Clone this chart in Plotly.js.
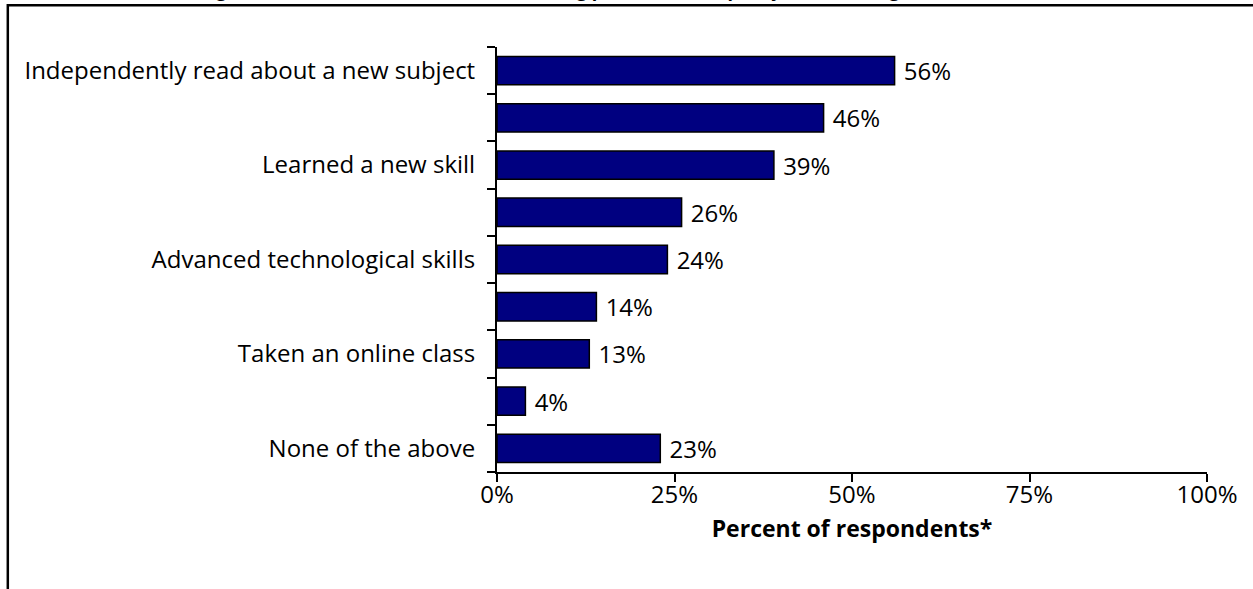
<!DOCTYPE html>
<html>
<head>
<meta charset="utf-8">
<script src="https://cdn.plot.ly/plotly-3.0.1.min.js"></script>
<style>html,body{margin:0;padding:0;background:#fff;}#chart{width:1253px;height:589px;}</style>
</head>
<body>
<div id="chart"></div>
<script>
// Data
var categories = [
  "Independently read about a new subject",
  "Item 2",
  "Learned a new skill",
  "Item 4",
  "Advanced technological skills",
  "Item 6",
  "Taken an online class",
  "Item 8",
  "None of the above"
];
var tickLabels = [
  "Independently read about a new subject",
  "",
  "Learned a new skill",
  "",
  "Advanced technological skills",
  "",
  "Taken an online class",
  "",
  "None of the above"
];
var percents = [56, 46, 39, 26, 24, 14, 13, 4, 23];
var xTickValues = [0, 25, 50, 75, 100];
var xTickLabels = ["0%", "25%", "50%", "75%", "100%"];
var chartTitle = "Figure 10: Modes of education and learning pursued in the past year \u2014 During the last 12 months";

var FONT = "'Open Sans', Lato, sans-serif";

var trace = {
  type: "bar",
  orientation: "h",
  y: categories,
  x: percents,
  width: 0.6,
  marker: {color: "#000080", line: {color: "#000000", width: 1.5}},
  texttemplate: "\u00a0%{x}%",
  textposition: "outside",
  constraintext: "none",
  cliponaxis: false,
  textfont: {family: FONT, size: 24, color: "#000000"},
  hoverinfo: "none"
};

var layout = {
  width: 1253,
  height: 589,
  margin: {l: 497, r: 46, t: 47, b: 117, pad: 0},
  paper_bgcolor: "#ffffff",
  plot_bgcolor: "#ffffff",
  showlegend: false,
  font: {family: FONT, size: 24, color: "#000000"},
  xaxis: {
    range: [0, 100],
    tickmode: "array",
    tickvals: xTickValues,
    ticktext: xTickLabels,
    ticks: "outside",
    ticklen: 8,
    tickwidth: 2,
    tickcolor: "#000",
    showline: true,
    linewidth: 2,
    linecolor: "#000",
    showgrid: false,
    zeroline: false,
    ticklabelstandoff: -8,
    tickfont: {family: FONT, size: 24, color: "#000"},
    title: {text: "<b>Percent of respondents*</b>", font: {family: FONT, size: 23, color: "#000"}, standoff: 12}
  },
  yaxis: {
    type: "category",
    categoryorder: "array",
    categoryarray: categories,
    autorange: "reversed",
    tickmode: "array",
    tickvals: categories,
    ticktext: tickLabels,
    tickson: "boundaries",
    ticks: "outside",
    ticklen: 8,
    tickwidth: 2,
    tickcolor: "#000",
    showline: true,
    linewidth: 2,
    linecolor: "#000",
    showgrid: false,
    zeroline: false,
    ticklabelstandoff: 15,
    tickfont: {family: FONT, size: 24, color: "#000"}
  },
  shapes: [{
    type: "rect",
    xref: "paper", yref: "paper",
    x0: -0.689, x1: 1.08,
    y0: -0.35, y1: 1.0985,
    line: {color: "#000", width: 2.5},
    fillcolor: "rgba(0,0,0,0)",
    layer: "below"
  }],
  annotations: [{
    xref: "paper", yref: "paper",
    x: 0.196, y: 1.1015,
    xanchor: "center", yanchor: "bottom",
    showarrow: false,
    text: "<b>" + chartTitle + "</b>",
    font: {family: FONT, size: 18, color: "#000"}
  }]
};

Plotly.newPlot("chart", [trace], layout, {displayModeBar: false, staticPlot: true});
</script>
</body>
</html>
